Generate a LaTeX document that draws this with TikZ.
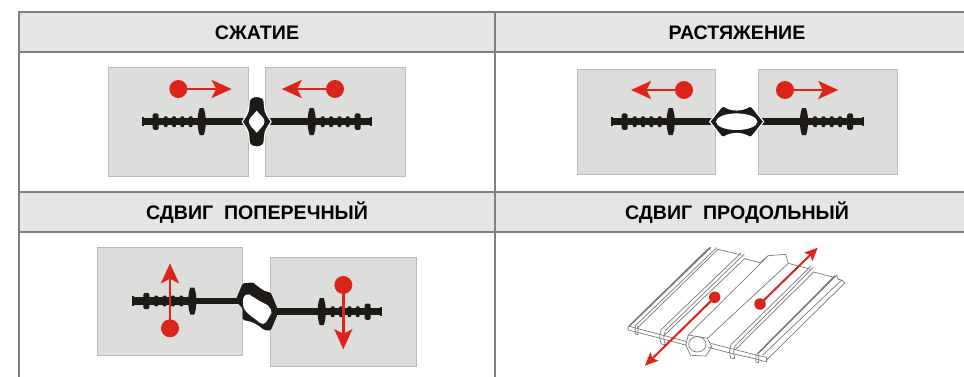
\documentclass[tikz,border=0pt]{standalone}
\usepackage{fontspec}
\setmainfont{Liberation Sans}
\usetikzlibrary{arrows.meta}
\definecolor{rulegray}{HTML}{808080}
\definecolor{headfill}{HTML}{E5E5E5}
\definecolor{blockfill}{HTML}{DDDDDC}
\definecolor{blockline}{HTML}{BBBBBB}
\definecolor{redmark}{HTML}{DD241B}
\definecolor{ink}{HTML}{1E1A18}
\definecolor{stripline}{HTML}{7A7A7A}
\tikzset{
  headtext/.style={font=\bfseries\fontsize{19.6}{22}\selectfont, text=black, inner sep=0pt},
  blockshape/.style={fill=blockfill, draw=blockline, line width=0.8pt},
  dotmark/.style={circle, fill=redmark, inner sep=0pt, minimum size=18pt},
  smalldot/.style={circle, fill=redmark, inner sep=0pt, minimum size=11.5pt},
  forcearrow/.style={draw=redmark, line width=2.6pt, -{Stealth[length=20pt,width=18pt,inset=4.5pt]}, shorten <=-2pt},
  thinarrow/.style={draw=redmark, line width=2pt, -{Stealth[length=13pt,width=11.5pt,inset=2.5pt]}, shorten <=-2pt},
  ruleline/.style={draw=rulegray, line width=1.8pt},
  strip/.style={draw=stripline, line width=0.7pt, line join=round},
  stripdark/.style={draw=stripline, line width=1.5pt},
  profile/.style={fill=ink, draw=none},
  bulbhalo/.style={draw=white, line width=1.2pt, line join=round}
}
% one arm of the waterstop: starts at its free end, runs along +x for #1
\newcommand{\wsarm}[4]{%
  \begin{scope}[shift={(#1,#2)},xscale=#3]
    \fill[profile] (0,-4.6) rectangle (2,4.6);
    \fill[profile] (0,-3.6) rectangle (60,3.6);
    \fill[profile] (60,-3.4) rectangle (#4,3.4);
    \fill[profile,rounded corners=1.5pt] (11,-8.2) rectangle (17,8.2);
    \foreach \r in {24,32.3,40.6,49}
      \fill[profile,rounded corners=1pt] (\r-1.9,-5.4) rectangle (\r+1.9,5.4);
    \fill[profile] (58,-13.5) -- (62,-13.5) .. controls (64.8,-6) and (64.8,6) .. (62,13.5)
       -- (58,13.5) .. controls (55.2,6) and (55.2,-6) .. (58,-13.5) -- cycle;
  \end{scope}}
\begin{document}
\begin{tikzpicture}[x=1pt,y=-1pt]
\useasboundingbox (0,0) rectangle (964,377);
\fill[white] (0,0) rectangle (964,377);

% table
\fill[headfill] (18,12) rectangle (964,52);
\fill[headfill] (18,192) rectangle (964,232);
\coordinate (tl) at (18.6,11);
\coordinate (bl) at (18.6,377);
\coordinate (tm) at (495,11);
\coordinate (bm) at (495,377);
\draw[ruleline] (tl) -- (bl);
\draw[ruleline] (tm) -- (bm);
\draw[ruleline] (18,12) -- (964,12);
\draw[ruleline] (18,52) -- (964,52);
\draw[ruleline] (18,192) -- (964,192);
\draw[ruleline] (18,232) -- (964,232);
\node[headtext] (h1) at (257,32.3) {СЖАТИЕ};
\node[headtext] (h2) at (737,32.3) {РАСТЯЖЕНИЕ};
\node[headtext] (h3) at (257,212.3) {СДВИГ\ \ ПОПЕРЕЧНЫЙ};
\node[headtext] (h4) at (737,212.3) {СДВИГ\ \ ПРОДОЛЬНЫЙ};

% --- compression
\draw[blockshape] (108.3,67.3) rectangle (248.3,176);
\draw[blockshape] (265,67.3) rectangle (405.3,176);
\wsarm{141.7}{121.7}{1}{105}
\wsarm{371.7}{121.7}{-1}{105}
\begin{scope}[shift={(256.7,121.7)}]
  \path[bulbhalo,fill=ink] (-14.5,0) .. controls (-12,-4) and (-8,-9) .. (-8,-14)
     .. controls (-8,-16) and (-7.5,-17) .. (-7.5,-20) .. controls (-7.5,-27) and (7.5,-27) .. (7.5,-20)
     .. controls (7.5,-17) and (8,-16) .. (8,-14)
     .. controls (8,-9) and (12,-4) .. (14.5,0)
     .. controls (12,4) and (8,9) .. (8,14)
     .. controls (8,16) and (7.5,17) .. (7.5,20) .. controls (7.5,27) and (-7.5,27) .. (-7.5,20)
     .. controls (-7.5,17) and (-8,16) .. (-8,14)
     .. controls (-8,9) and (-12,4) .. (-14.5,0) -- cycle;
  \fill[white] (-7.8,0) .. controls (-7.8,-4) and (-3,-7) .. (0,-11) .. controls (3,-7) and (7.8,-4) .. (7.8,0)
     .. controls (7.8,4) and (3,7) .. (0,11) .. controls (-3,7) and (-7.8,4) .. (-7.8,0) -- cycle;
\end{scope}
\node[dotmark] (c1) at (178.3,89) {};
\coordinate (c1t) at (231.7,89);
\draw[forcearrow] (c1) -- (c1t);
\node[dotmark] (c2) at (335,89) {};
\coordinate (c2t) at (281.7,89);
\draw[forcearrow] (c2) -- (c2t);

% --- tension
\draw[blockshape] (577,69.3) rectangle (715.7,174.3);
\draw[blockshape] (758.3,69.3) rectangle (897.7,174.3);
\wsarm{610.7}{121.7}{1}{105}
\wsarm{864}{121.7}{-1}{105}
\begin{scope}[shift={(736.7,121.7)}]
  \path[bulbhalo,fill=ink] (-27,0) -- (-15.5,-14.5) -- (-13,-15.5) .. controls (-5,-10.5) and (5,-10.5) .. (13,-15.5)
     -- (15.5,-14.5) -- (27,0) -- (15.5,14.5) -- (13,15.5) .. controls (5,10.5) and (-5,10.5) .. (-13,15.5)
     -- (-15.5,14.5) -- cycle;
  \fill[white] (0,0) ellipse [x radius=20.7, y radius=8.3];
\end{scope}
\node[dotmark] (t1) at (684,90) {};
\coordinate (t1t) at (631,90);
\draw[forcearrow] (t1) -- (t1t);
\node[dotmark] (t2) at (785,90) {};
\coordinate (t2t) at (838.3,90);
\draw[forcearrow] (t2) -- (t2t);

% --- transverse shear
\draw[blockshape] (97.3,247.3) rectangle (242.7,355.7);
\draw[blockshape] (270.3,257.7) rectangle (416.7,366);
\wsarm{132.3}{301}{1}{106}
\wsarm{381.7}{311.7}{-1}{106}
\begin{scope}[shift={(90,240)},scale=0.33333]
  \path[fill=ink,rounded corners=1.5pt] (436,183) -- (458,130) -- (488,127) .. controls (505,140) and (520,155) .. (542,157)
     -- (562,205) -- (562,225) -- (542,272) -- (522,270) .. controls (505,255) and (490,245) .. (458,240)
     -- (458,205) -- cycle;
  \fill[white,rounded corners=2pt] (459,180) -- (459,172) -- (473,160) .. controls (490,172) and (520,190) .. (532,193) -- (547,215)
     -- (525,252) -- (513,252) .. controls (495,235) and (470,222) .. (459,200) -- cycle;
\end{scope}
\node[dotmark] (s1) at (170,328.3) {};
\coordinate (s1t) at (170,263.3);
\draw[forcearrow] (s1) -- (s1t);
\node[dotmark] (s2) at (343.3,285) {};
\coordinate (s2t) at (343.3,349.3);
\draw[forcearrow] (s2) -- (s2t);

% --- longitudinal shear: extruded strip
\begin{scope}[shift={(620,240)},scale=0.33333]
  % long edges
  \draw[stripdark] (30,256) -- (272,22);
  \draw[strip] (25,260) -- (266,24);
  \draw[strip] (45,258) -- (290,23);
  \draw[strip] (52,264) -- (294,28);
  \draw[strip] (122,270) -- (364,38);
  \draw[strip] (136,272) -- (373,42);
  \draw[strip] (134,285) -- (374,56);
  \draw[strip] (205,285) -- (445,47);
  \draw[strip] (262,295) -- (505,70);
  \draw[strip] (335,312) -- (573,78);
  \draw[strip] (345,318) -- (580,82);
  \draw[strip] (345,330) -- (581,96);
  \draw[stripdark] (412,342) -- (645,108);
  \draw[strip] (418,336) -- (650,105);
  \draw[strip] (428,345) -- (665,120);
  \draw[strip] (438,362) -- (675,128);
  % back edge
  \draw[strip] (294,28) -- (364,45);
  \draw[strip] (374,56) -- (420,68) -- (445,47) -- (497,43) -- (505,70) -- (573,88);
  \draw[strip] (581,96) -- (642,112);
  \draw[strip] (650,105) -- (654,118) -- (665,120) -- (675,128);
  % front section
  \draw[strip] (25,258) -- (25,270) -- (125,296) -- (200,316);
  \draw[strip] (25,258) -- (46,264) -- (122,284) -- (198,304);
  \draw[strip] (272,310) -- (334,326) -- (412,346) -- (440,352) -- (440,366) -- (412,358) -- (334,340) -- (265,322);
  % front ribs
  \draw[strip] (46,256) -- (46,282) -- (54,284) -- (54,258);
  \draw[strip] (122,272) .. controls (118,285) and (118,300) .. (124,312) -- (136,314) .. controls (130,300) and (130,285) .. (136,275);
  \draw[strip] (334,312) .. controls (328,325) and (328,340) .. (332,354) -- (344,356) .. controls (340,340) and (340,325) .. (346,318);
  \draw[strip] (408,342) -- (408,366) -- (416,368) -- (416,344);
  % hollow bulb
  \draw[strip] (205,285) -- (262,295) -- (275,320) -- (258,348) -- (212,346) -- (197,315) -- cycle;
  \draw[strip] (232,313) ellipse [x radius=26, y radius=23];
\end{scope}
\node[smalldot] (l1) at (714.7,297.3) {};
\coordinate (l1t) at (645,365.7);
\draw[thinarrow] (l1) -- (l1t);
\node[smalldot] (l2) at (760,304) {};
\coordinate (l2t) at (817.7,247.7);
\draw[thinarrow] (l2) -- (l2t);
\end{tikzpicture}
\end{document}
